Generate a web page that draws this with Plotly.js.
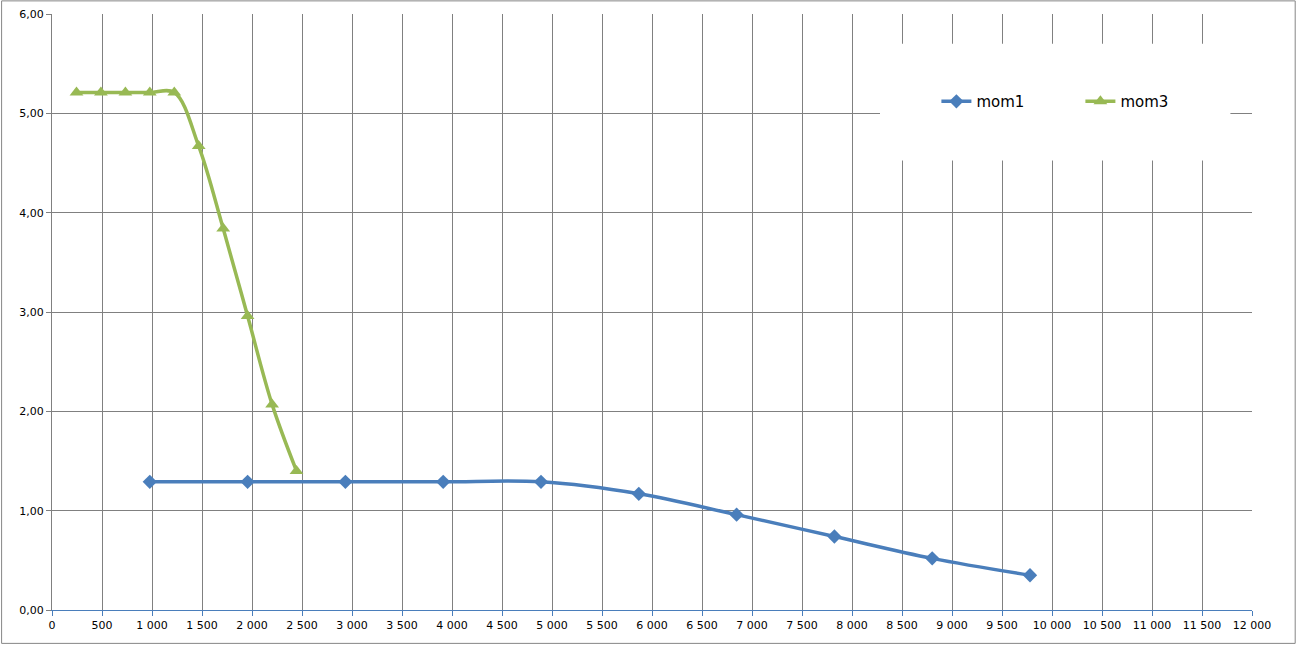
<!DOCTYPE html>
<html>
<head>
<meta charset="utf-8">
<script src="https://cdn.plot.ly/plotly-3.0.1.min.js"></script>
<style>html,body{margin:0;padding:0;background:#fff;}#chart{width:1298px;height:647px;}</style>
</head>
<body>
<div id="chart"></div>
<script>
const mom1X = [978, 1956, 2934, 3912, 4890, 5868, 6846, 7824, 8802, 9780];
const mom1Y = [1.29, 1.29, 1.29, 1.29, 1.29, 1.17, 0.96, 0.74, 0.52, 0.35];
const mom3X = [245, 489, 734, 978, 1223, 1467, 1712, 1956, 2201, 2445];
const mom3Y = [5.21, 5.21, 5.21, 5.21, 5.21, 4.67, 3.84, 2.96, 2.07, 1.40];
const seriesNames = ['mom1', 'mom3'];

const traces = [
  {x: mom1X, y: mom1Y, name: seriesNames[0], type: 'scatter', mode: 'lines+markers',
   line: {color: '#4A7EBB', width: 3.5, shape: 'spline', smoothing: 1},
   marker: {symbol: 'diamond', size: 11, color: '#4A7EBB'}},
  {x: mom3X, y: mom3Y, name: seriesNames[1], type: 'scatter', mode: 'lines+markers',
   line: {color: '#98B954', width: 3.5, shape: 'spline', smoothing: 1},
   marker: {symbol: 'triangle-up', size: 12, color: '#98B954'}}
];

const layout = {
  width: 1298, height: 647,
  margin: {l: 52, r: 46, t: 14, b: 37},
  paper_bgcolor: '#fff', plot_bgcolor: '#fff',
  separators: ', ',
  font: {family: 'DejaVu Sans, Verdana, sans-serif', size: 11, color: '#000'},
  showlegend: true,
  legend: {orientation: 'h', x: 0.737, y: 0.853, xanchor: 'left', yanchor: 'middle',
           bgcolor: 'rgba(0,0,0,0)', font: {size: 15, family: 'DejaVu Sans, Verdana, sans-serif'},
           entrywidth: 99, entrywidthmode: 'pixels', itemwidth: 30},
  xaxis: {range: [0, 12000], dtick: 500, tick0: 0, tickformat: ',d',
          showgrid: true, gridcolor: '#808080', gridwidth: 1,
          showline: true, linecolor: '#4A7EBB', linewidth: 1,
          ticks: 'outside', ticklen: 5, tickcolor: '#4A7EBB', zeroline: false,
          automargin: false, fixedrange: true},
  yaxis: {range: [0, 6], dtick: 1, tick0: 0, tickformat: '.2f',
          showgrid: true, gridcolor: '#808080', gridwidth: 1,
          showline: true, linecolor: '#808080', linewidth: 1,
          ticks: 'outside', ticklen: 5, tickcolor: '#808080', zeroline: false,
          automargin: false, fixedrange: true},
  shapes: [
    {type: 'rect', xref: 'paper', yref: 'paper', x0: 0.69, x1: 0.982, y0: 0.754, y1: 0.95,
     fillcolor: '#fff', line: {width: 0}, layer: 'above'},
    {type: 'rect', xref: 'paper', yref: 'paper', x0: -0.042, x1: 1.036, y0: -0.056, y1: 1.022,
     fillcolor: 'rgba(0,0,0,0)', line: {color: '#868686', width: 1}, layer: 'below'}
  ]
};

Plotly.newPlot('chart', traces, layout, {displayModeBar: false, staticPlot: true});
</script>
</body>
</html>
